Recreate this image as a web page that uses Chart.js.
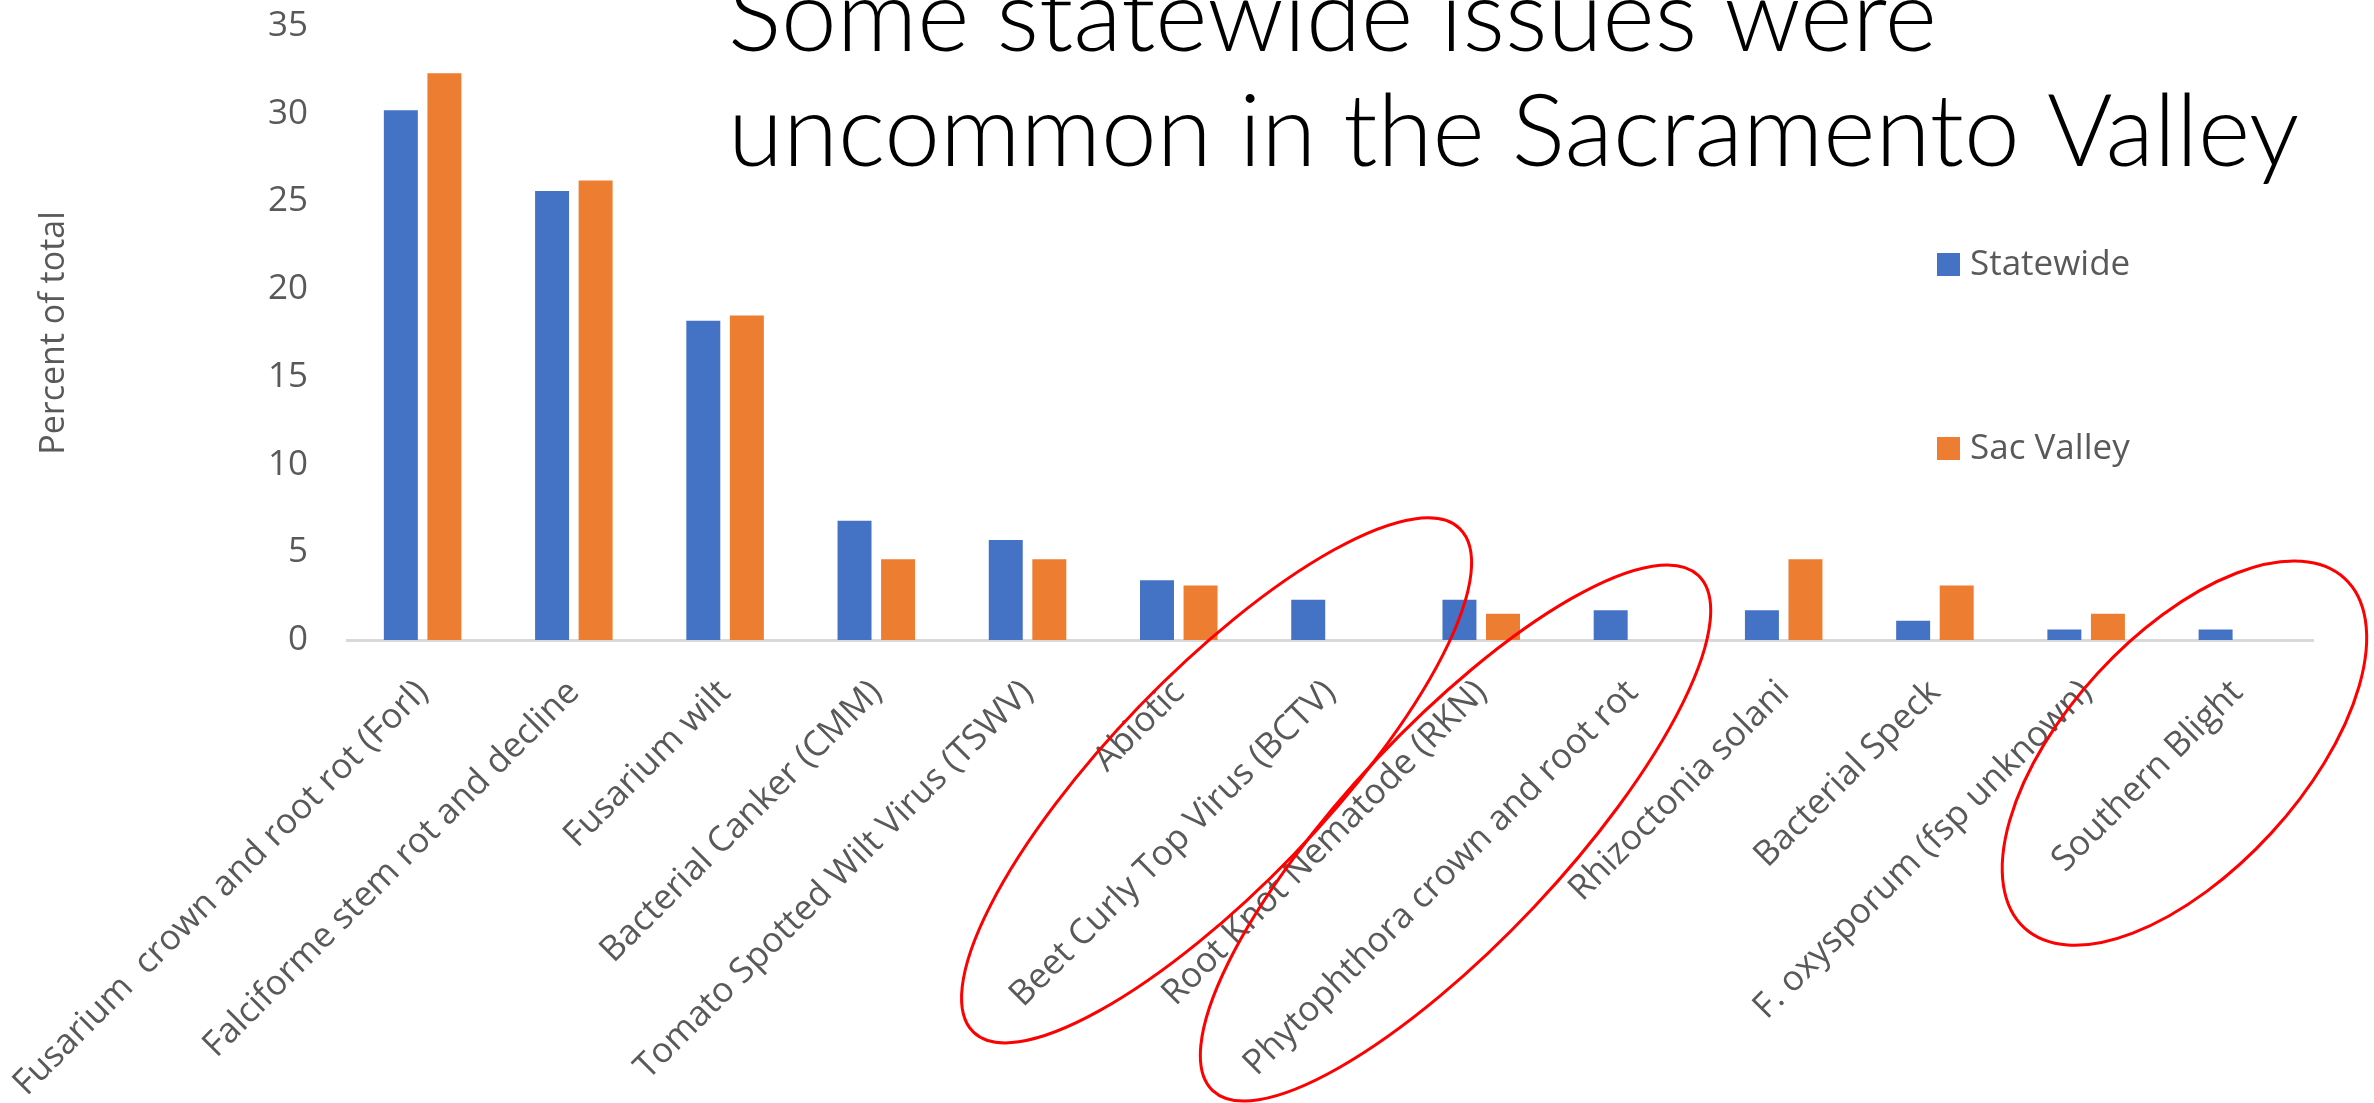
<!DOCTYPE html>
<html>
<head>
<meta charset="utf-8">
<title>Some statewide issues were uncommon in the Sacramento Valley</title>
<script src="https://cdn.jsdelivr.net/npm/chart.js@4/dist/chart.umd.min.js"></script>
<style>
    html, body { margin: 0; padding: 0; background: #ffffff; }
    #wrap { width: 2374px; height: 1103px; }
</style>
</head>
<body>
<div id="wrap"><canvas id="bar_issues" width="2374" height="1103"></canvas></div>
<script>
/*------------------------------------------------------*/
/**
 * @name categories
 * @type {Array}
 * @description disease / issue names on the x axis
 */
const categories = [
    'Fusarium  crown and root rot (Forl)',
    'Falciforme stem rot and decline',
    'Fusarium wilt',
    'Bacterial Canker (CMM)',
    'Tomato Spotted Wilt Virus (TSWV)',
    'Abiotic',
    'Beet Curly Top Virus (BCTV)',
    'Root Knot Nematode (RKN)',
    'Phytophthora crown and root rot',
    'Rhizoctonia solani',
    'Bacterial Speck',
    'F. oxysporum (fsp unknown)',
    'Southern Blight'
];
/**
 * @name statewide
 * @type {Array}
 * @description percent of total, statewide
 */
const statewide = [30.2, 25.6, 18.2, 6.8, 5.7, 3.4, 2.3, 2.3, 1.7, 1.7, 1.1, 0.6, 0.6];
/**
 * @name sac_valley
 * @type {Array}
 * @description percent of total, Sacramento Valley
 */
const sac_valley = [32.3, 26.2, 18.5, 4.6, 4.6, 3.1, 0, 1.5, 0, 4.6, 3.1, 1.5, 0];
/**
 * @name series_names
 * @type {Array}
 */
const series_names = ['Statewide', 'Sac Valley'];
/**
 * @name y_range
 * @type {Array}
 * @description min, max, step of the value axis
 */
const y_range = [0, 35, 5];
/**
 * @name title_lines
 * @type {Array}
 */
const title_lines = ['Some statewide issues were', 'uncommon in the Sacramento Valley'];
/**
 * @name axis_title
 * @type {String}
 */
const axis_title = 'Percent of total';
/**
 * @name circled
 * @type {Array}
 * @description hand drawn red rings: category index, value, radii (px), tilt (deg)
 */
const circled = [
    {index: 5.25, value: -8.0, rx: 350, ry: 107, tilt: -46},
    {index: 6.83, value: -11.0, rx: 354, ry: 108, tilt: -46.7},
    {index: 11.65, value: -6.45, rx: 237, ry: 118, tilt: -47.5}
];

const font_family = '"Open Sans", "Noto Sans", sans-serif';
const title_family = 'Lato, "Open Sans", sans-serif';
const text_grey = '#595959';
const colors = ['#4472C4', '#ED7D31'];

/**
 * @name slide_title
 * @description big slide title drawn over the top of the plot
 */
const slide_title = {
    id: 'slide_title',
    afterDraw(chart) {
        const ctx = chart.ctx;
        ctx.save();
        ctx.font = '300 100px ' + title_family;
        ctx.fillStyle = '#000000';
        ctx.textAlign = 'left';
        ctx.textBaseline = 'alphabetic';
        title_lines.forEach((line, i) => ctx.fillText(line, 728, 51 + i * 115));
        ctx.restore();
    }
};

/**
 * @name side_legend
 * @description legend floating over the right side of the plot
 */
const side_legend = {
    id: 'side_legend',
    afterDraw(chart) {
        const ctx = chart.ctx;
        ctx.save();
        ctx.font = '35px ' + font_family;
        ctx.textBaseline = 'middle';
        ctx.textAlign = 'left';
        chart.data.datasets.forEach((ds, i) => {
            const y = 264 + i * 184;
            ctx.fillStyle = ds.backgroundColor;
            ctx.fillRect(1937, y - 11, 23, 23);
            ctx.fillStyle = text_grey;
            ctx.fillText(ds.label, 1970, y + 1);
        });
        ctx.restore();
    }
};

/**
 * @name red_rings
 * @description red ellipses placed through the chart scales
 */
const red_rings = {
    id: 'red_rings',
    afterDraw(chart) {
        const ctx = chart.ctx;
        const x = chart.scales.x;
        const y = chart.scales.y;
        ctx.save();
        ctx.strokeStyle = '#ff0000';
        ctx.lineWidth = 3;
        circled.forEach(c => {
            ctx.beginPath();
            ctx.ellipse(x.getPixelForValue(c.index), y.getPixelForValue(c.value),
                c.rx, c.ry, c.tilt * Math.PI / 180, 0, 2 * Math.PI);
            ctx.stroke();
        });
        ctx.restore();
    }
};

const datasets = [statewide, sac_valley].map((values, i) => ({
    label: series_names[i],
    data: values,
    backgroundColor: colors[i],
    borderWidth: 0,
    categoryPercentage: 0.576,
    barPercentage: 0.78
}));

const options = {
    responsive: false,
    animation: false,
    devicePixelRatio: 1,
    layout: {padding: {top: 26, right: 61, left: 0, bottom: 0}},
    plugins: {
        legend: {display: false},
        title: {display: false},
        tooltip: {enabled: false}
    },
    scales: {
        x: {
            grid: {display: false, drawTicks: false},
            border: {display: true, color: '#d9d9d9', width: 3},
            ticks: {
                color: text_grey,
                font: {family: font_family, size: 35},
                maxRotation: 45,
                minRotation: 45,
                autoSkip: false,
                padding: 32
            },
            afterFit(scale) {
                scale.height = 463;
                scale.paddingLeft = 0;
                scale.paddingRight = 0;
            }
        },
        y: {
            min: y_range[0],
            max: y_range[1],
            grid: {display: false, drawTicks: false},
            border: {display: false},
            ticks: {
                stepSize: y_range[2],
                color: text_grey,
                font: {family: font_family, size: 35},
                padding: 39
            },
            title: {
                display: true,
                text: axis_title,
                color: text_grey,
                font: {family: font_family, size: 34},
                padding: {top: 34, bottom: 0}
            },
            afterFit(scale) {
                scale.width = 347;
                scale.paddingTop = 0;
                scale.paddingBottom = 0;
            }
        }
    }
};

const chart_issues = new Chart(document.getElementById('bar_issues'), {
    type: 'bar',
    data: {labels: categories, datasets: datasets},
    options: options,
    plugins: [slide_title, side_legend, red_rings]
});
</script>
</body>
</html>
